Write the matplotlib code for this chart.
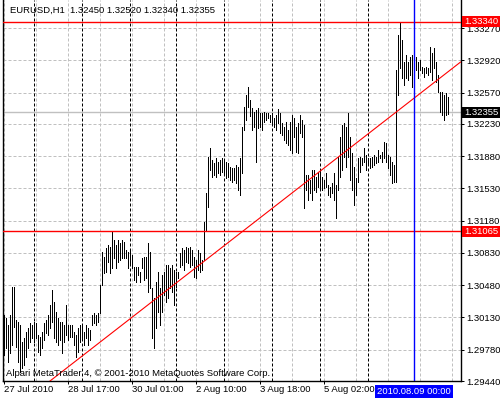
import matplotlib
matplotlib.use("Agg")
import matplotlib.pyplot as plt
from matplotlib.patches import Rectangle

plt.rcParams['font.family'] = ['Liberation Sans', 'DejaVu Sans']

# EURUSD H1 bars, 27 Jul 2010 09:00 .. 9 Aug 2010 17:00 (bar index = hour slot)
highs = [
    1.3016, 1.3012, 1.3005, 1.3016, 1.3046, 1.3046, 1.3010, 1.3008, 1.3005, 1.2986,
    1.2991, 1.2997, 1.3002, 1.3007, 1.3005, 1.3008, 1.3007, 1.2994, 1.2992, 1.2997,
    1.3007, 1.3010, 1.3016, 1.3026, 1.3043, 1.3030, 1.3019, 1.3012, 1.3008, 1.3008,
    1.3005, 1.3026, 1.3005, 1.3005, 1.3005, 1.2997, 1.2994, 1.3002, 1.3005, 1.3005,
    1.2997, 1.3005, 1.3002, 1.2999, 1.3016, 1.3018, 1.3016, 1.3018, 1.3048, 1.3084,
    1.3079, 1.3088, 1.3092, 1.3089, 1.31065, 1.3097, 1.3092, 1.3097, 1.3094, 1.3097,
    1.3095, 1.3086, 1.3084, 1.3086, 1.3081, 1.3068, 1.3068, 1.3068, 1.3062, 1.3078,
    1.3079, 1.3079, 1.3094, 1.3084, 1.3045, 1.3034, 1.3051, 1.3062, 1.3045, 1.3059,
    1.3062, 1.3070, 1.3070, 1.3067, 1.3070, 1.3064, 1.3062, 1.3062, 1.3083, 1.3088,
    1.3086, 1.3089, 1.3088, 1.3089, 1.3086, 1.3079, 1.3075, 1.3086, 1.3083, 1.3075,
    1.3116, 1.3148, 1.3187, 1.3197, 1.3184, 1.3181, 1.3186, 1.3182, 1.3184, 1.3186,
    1.3184, 1.3182, 1.3181, 1.3176, 1.3175, 1.3175, 1.3178, 1.3176, 1.3186, 1.3220,
    1.3241, 1.3254, 1.3263, 1.3249, 1.3240, 1.3236, 1.3238, 1.3240, 1.3235, 1.3235,
    1.3236, 1.3235, 1.3235, 1.3233, 1.3235, 1.3229, 1.3233, 1.3239, 1.3235, 1.3224,
    1.3220, 1.3225, 1.3216, 1.3225, 1.3233, 1.3229, 1.3220, 1.3224, 1.3233, 1.3227,
    1.3222, 1.3168, 1.3168, 1.3162, 1.3173, 1.3173, 1.3165, 1.3171, 1.3173, 1.3165,
    1.3162, 1.3170, 1.3157, 1.3154, 1.3159, 1.3170, 1.3157, 1.3187, 1.3209, 1.3222,
    1.3224, 1.3220, 1.3235, 1.3209, 1.3191, 1.3176, 1.3164, 1.3186, 1.3187, 1.3186,
    1.3197, 1.3189, 1.3186, 1.3186, 1.3187, 1.3189, 1.3187, 1.3195, 1.3189, 1.3192,
    1.3203, 1.3202, 1.3189, 1.3187, 1.3182, 1.3178, 1.3281, 1.3319, 1.3334, 1.3314,
    1.3290, 1.3298, 1.3290, 1.3296, 1.3298, 1.3296, 1.3296, 1.3290, 1.3292, 1.3285,
    1.3284, 1.3285, 1.3284, 1.3306, 1.3300, 1.3305, 1.3290, 1.3276, 1.3258, 1.3258,
    1.3254, 1.3257, 1.3252,
]
lows = [
    1.2972, 1.2980, 1.2965, 1.2974, 1.2983, 1.3003, 1.2981, 1.2965, 1.2954, 1.2958,
    1.2961, 1.2970, 1.2980, 1.2986, 1.2991, 1.2986, 1.2991, 1.2976, 1.2972, 1.2980,
    1.2989, 1.2996, 1.2994, 1.3002, 1.3008, 1.2991, 1.2986, 1.2983, 1.2989, 1.2974,
    1.2986, 1.2994, 1.2989, 1.2992, 1.2992, 1.2983, 1.2970, 1.2976, 1.2986, 1.2991,
    1.2983, 1.2991, 1.2983, 1.2989, 1.3005, 1.3007, 1.3005, 1.3008, 1.3018, 1.3048,
    1.3061, 1.3062, 1.3073, 1.3061, 1.3067, 1.3078, 1.3067, 1.3073, 1.3075, 1.3078,
    1.3078, 1.3078, 1.3067, 1.3070, 1.3067, 1.3054, 1.3051, 1.3059, 1.3051, 1.3067,
    1.3054, 1.3056, 1.3041, 1.3045, 1.2991, 1.2980, 1.3002, 1.3019, 1.3005, 1.3019,
    1.3037, 1.3030, 1.3034, 1.3045, 1.3041, 1.3026, 1.3046, 1.3056, 1.3068, 1.3070,
    1.3064, 1.3073, 1.3072, 1.3068, 1.3070, 1.3057, 1.3056, 1.3064, 1.3062, 1.3064,
    1.3075, 1.3108, 1.3133, 1.3173, 1.3165, 1.3168, 1.3165, 1.3170, 1.3168, 1.3171,
    1.3170, 1.3164, 1.3165, 1.3162, 1.3160, 1.3162, 1.3159, 1.3151, 1.3146, 1.3170,
    1.3216, 1.3227, 1.3241, 1.3231, 1.3216, 1.3220, 1.3182, 1.3219, 1.3220, 1.3216,
    1.3225, 1.3227, 1.3229, 1.3225, 1.3224, 1.3220, 1.3216, 1.3224, 1.3213, 1.3211,
    1.3206, 1.3202, 1.3200, 1.3195, 1.3191, 1.3209, 1.3192, 1.3191, 1.3213, 1.3209,
    1.3132, 1.3151, 1.3140, 1.3148, 1.3140, 1.3151, 1.3149, 1.3154, 1.3151, 1.3151,
    1.3153, 1.3154, 1.3146, 1.3144, 1.3148, 1.3140, 1.3121, 1.3151, 1.3165, 1.3173,
    1.3187, 1.3176, 1.3187, 1.3162, 1.3151, 1.3135, 1.3146, 1.3160, 1.3171, 1.3178,
    1.3182, 1.3173, 1.3178, 1.3175, 1.3176, 1.3178, 1.3181, 1.3182, 1.3186, 1.3182,
    1.3186, 1.3182, 1.3175, 1.3168, 1.3159, 1.3160, 1.3160, 1.3254, 1.3284, 1.3273,
    1.3265, 1.3273, 1.3271, 1.3276, 1.3263, 1.3274, 1.3281, 1.3273, 1.3281, 1.3278,
    1.3274, 1.3278, 1.3276, 1.3279, 1.3271, 1.3284, 1.3268, 1.3258, 1.3236, 1.3233,
    1.3227, 1.3233, 1.3234,
]

price_ticks = [1.33270, 1.32920, 1.32570, 1.32230, 1.31880, 1.31530,
               1.31180, 1.30830, 1.30480, 1.30130, 1.29780, 1.29440]
time_label_bars = [0, 32, 64, 96, 128, 160]
time_labels = ["27 Jul 2010", "28 Jul 17:00", "30 Jul 01:00",
               "2 Aug 10:00", "3 Aug 18:00", "5 Aug 02:00"]
day_start_bars = [15, 39, 63, 86, 110, 134, 158, 182]
grid_bars = list(range(0, 229, 16))

cursor_bar = 205
cursor_label = "2010.08.09 00:00"
high_level = 1.33340
low_level = 1.31065
bid = 1.32355
trend_bars = [23.25, 204.75]
trend_prices = [1.29440, 1.32500]
header = "EURUSD,H1  1.32450 1.32520 1.32340 1.32355"
footer = "Alpari MetaTrader 4, \u00a9 2001-2010 MetaQuotes Software Corp."

PX = 0.72  # one pixel in points at dpi 100
FS = 6.8

fig = plt.figure(figsize=(5, 4), dpi=100)
ax = fig.add_axes([2.5 / 500, 19 / 400, 458 / 500, 381 / 400])
ax.set_xlim(-0.5, 228.5)
ax.set_ylim(1.29440, 1.33574)

# grid
for b in grid_bars:
    ax.axvline(b, color='#c0c0c0', lw=PX, dashes=(3, 2), zorder=1)
for p in price_ticks:
    ax.axhline(p, color='#c0c0c0', lw=PX, dashes=(3, 2), zorder=1)
# period separators
for b in day_start_bars:
    ax.axvline(b, color='black', lw=PX, dashes=(3, 2), zorder=1.5)

ax.axhline(bid, color='#c0c0c0', lw=1.0, zorder=2)

# bars
ax.vlines(range(len(highs)), lows, highs, color='black', lw=PX,
          antialiased=False, zorder=3)

ax.axhline(high_level, color='red', lw=1.0, zorder=4)
ax.axhline(low_level, color='red', lw=1.0, zorder=4)
ax.axline((trend_bars[0], trend_prices[0]), (trend_bars[1], trend_prices[1]),
          color='red', lw=0.8, zorder=4)
ax.axvline(cursor_bar, color='#0000ff', lw=1.0, zorder=4)

for s in ['left', 'right', 'bottom']:
    ax.spines[s].set_linewidth(1.0)
ax.spines['top'].set_visible(False)

ax.yaxis.tick_right()
ax.set_yticks(price_ticks)
ax.set_yticklabels([f"{p:.5f}" for p in price_ticks])
ax.tick_params(axis='y', direction='out', length=3 * PX, width=PX,
               pad=2.5 * PX, labelsize=FS)
ax.set_xticks(time_label_bars)
ax.set_xticklabels(time_labels)
for lbl in ax.get_xticklabels():
    lbl.set_ha('left')
ax.tick_params(axis='x', direction='out', length=3 * PX, width=PX,
               pad=1.5 * PX, labelsize=FS)

ax.text(7 / 458, 1 - 10 / 381, header, transform=ax.transAxes,
        ha='left', va='center', fontsize=FS, zorder=6)
ax.text(4 / 458, 7 / 381, footer, transform=ax.transAxes,
        ha='left', va='center', fontsize=FS, zorder=6)

# price / time tags
fig.canvas.draw()
to_fig = fig.transFigure.inverted()


def tag(xc, yc, w, h, text, bg, left=None):
    x0 = xc - w / 2 if left is None else left
    fx0, fy0 = to_fig.transform((x0, yc - h / 2))
    fx1, fy1 = to_fig.transform((x0 + w, yc + h / 2))
    fig.add_artist(Rectangle((fx0, fy0), fx1 - fx0, fy1 - fy0,
                             transform=fig.transFigure, facecolor=bg,
                             edgecolor='none', zorder=5))
    fx, fy = to_fig.transform((x0 + w / 2, yc))
    fig.text(fx, fy, text, color='white', ha='center', va='center',
             fontsize=FS, zorder=6)


right_px = ax.transAxes.transform((1, 0))[0]
for level, bg in [(high_level, 'red'), (bid, 'black'), (low_level, 'red')]:
    y = ax.transData.transform((0, level))[1]
    tag(0, y, 39, 11, f"{level:.5f}", bg, left=right_px + 1)

cx = ax.transData.transform((cursor_bar, 0))[0]
bottom_px = ax.transAxes.transform((0, 0))[1]
tag(cx, bottom_px - 10, 78, 13, cursor_label, '#0000ff')

fig.savefig("out.png", dpi=100, facecolor='white')
